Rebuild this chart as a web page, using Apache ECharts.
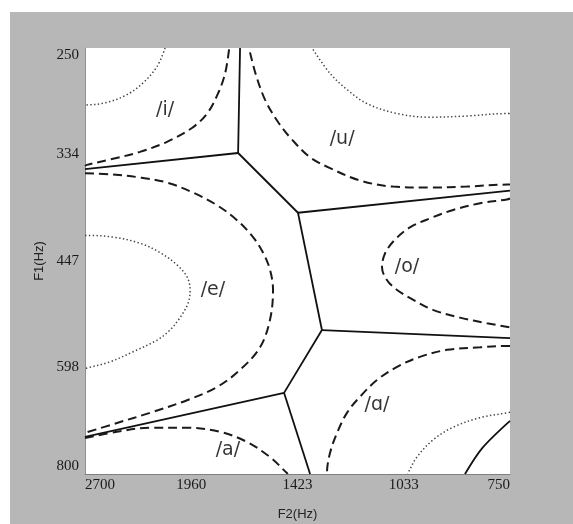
<!DOCTYPE html>
<html><head><meta charset="utf-8">
<script src="https://cdn.jsdelivr.net/npm/echarts@6/dist/echarts.min.js"></script>
<style>html,body{margin:0;padding:0;background:#fff;}#c{width:573px;height:524px;}</style>
</head><body><div id="c"></div>
<script>
// Tick labels (log-spaced axes)
const F2_TICKS = ['2700','1960','1423','1033','750'];
const F1_TICKS = ['250','334','447','598','800'];

// Decision boundaries (solid), [F2 Hz, F1 Hz]
const boundaryIU   = [[1692,250],[1702,333]];
const boundaryIE   = [[2700,348],[1702,333]];
const boundaryUE   = [[1702,333],[1421,392]];
const boundaryUO   = [[1421,392],[750,369]];
const boundaryEO   = [[1421,392],[1322,540]];
const boundaryOA   = [[1322,540],[750,552]];
const boundaryEA   = [[1322,540],[1482,641]];
const boundaryEa   = [[1482,641],[2700,723]];
const boundaryaA   = [[1482,641],[1370,800]];
const arcCorner    = [[859,800],[815,745],[750,692]];

// Dashed contours
const dashI = [[1749,251],[1770,268],[1808,283],[1869,299],[1956,311],[2109,323],[2288,332],[2504,339],[2684,344],[2700,345]];
const dashU = [[1642,253],[1613,269],[1569,288],[1509,306],[1447,321],[1370,337],[1290,347],[1179,359],[1067,365],[954,366],[854,365],[757,363],[750,363]];
const dashO = [[750,377],[757,378],[821,382],[890,389],[954,398],[1014,408],[1061,422],[1093,438],[1103,455],[1087,471],[1054,484],[1005,497],[946,511],[872,522],[804,530],[750,536]];
const dashE = [[2700,352],[2504,353],[2288,356],[2109,361],[1950,371],[1814,384],[1708,400],[1627,419],[1579,437],[1546,458],[1532,484],[1546,525],[1593,566],[1692,602],[1814,631],[1985,654],[2220,677],[2452,696],[2700,715]];
const dashAlpha = [[750,564],[757,564],[821,566],[907,570],[984,581],[1054,597],[1120,619],[1179,648],[1226,677],[1263,715],[1290,755],[1302,798],[1302,800]];
const dashA = [[2700,725],[2452,713],[2220,705],[1985,705],[1797,713],[1657,733],[1546,764],[1469,798],[1466,800]];

// Dotted contours
const dotI = [[2121,250],[2173,263],[2267,275],[2379,284],[2527,290],[2684,292],[2700,292]];
const dotU = [[1358,251],[1290,268],[1226,280],[1154,291],[1054,299],[954,302],[854,301],[757,299],[750,299]];
const dotE = [[2700,417],[2684,417],[2481,419],[2288,426],[2154,437],[2046,452],[1985,467],[1967,484],[1979,502],[2028,522],[2090,540],[2173,555],[2336,573],[2504,589],[2684,599],[2700,600]];
const dotAlpha = [[750,676],[757,677],[821,686],[890,704],[946,729],[993,764],[1020,798],[1021,800]];

// Vowel labels
const vowelNames = ['/i/','/u/','/e/','/o/','/ɑ/','/a/'];
const vowelPos   = [[2121,296],[1244,321],[1836,484],[1023,455],[1120,663],[1755,749]];

const F2_HI = 2700, F2_LO = 750, F1_LO = 250, F1_HI = 800;
const xi = f => 4 * Math.log(F2_HI / f) / Math.log(F2_HI / F2_LO);
const yi = f => 4 * Math.log(F1_HI / f) / Math.log(F1_HI / F1_LO);
const conv = arr => arr.map(p => [xi(p[0]), yi(p[1])]);

const series = [];
function addLine(arr, type, smooth) {
  let ls;
  if (type === 'solid') ls = {color:'#111', width:1.8, type:'solid'};
  else if (type === 'dash') ls = {color:'#1a1a1a', width:2, type:[9,5]};
  else ls = {color:'#444', width:1.5, type:[1.4,2.4]};
  series.push({type:'line', data:conv(arr), showSymbol:false, symbol:'none', smooth:smooth,
    lineStyle:ls, silent:true, animation:false, clip:true, z:3});
}
[boundaryIU,boundaryIE,boundaryUE,boundaryUO,boundaryEO,boundaryOA,boundaryEA,boundaryEa,boundaryaA].forEach(b=>addLine(b,'solid',false));
addLine(arcCorner,'solid',0.3);
[dashI,dashU,dashO,dashE,dashAlpha,dashA].forEach(b=>addLine(b,'dash',0.35));
[dotI,dotU,dotE,dotAlpha].forEach(b=>addLine(b,'dot',0.35));

series.push({type:'scatter', symbolSize:0, silent:true, animation:false, z:4,
  data: vowelPos.map((p,i)=>({value:[xi(p[0]), yi(p[1])], name:vowelNames[i]})),
  label:{show:true, position:'inside', formatter:p=>p.name, fontFamily:'DejaVu Sans', fontSize:19, color:'#000'}
});

const chart = echarts.init(document.getElementById('c'), null, {renderer:'canvas'});
chart.setOption({
  backgroundColor:'#ffffff',
  animation:false,
  graphic:[{type:'rect', shape:{x:10,y:12,width:563,height:512}, style:{fill:'#b7b7b7'}, z:-10, silent:true}],
  grid:{left:85, right:63, top:48, bottom:50, show:true, backgroundColor:'#ffffff', borderWidth:0,
    containLabel:false, outerBoundsMode:'none'},
  xAxis:{type:'value', min:0, max:4, interval:1,
    name:'F2(Hz)', nameLocation:'middle', nameGap:34,
    nameTextStyle:{fontFamily:'Liberation Sans', fontSize:13, color:'#222'},
    axisLine:{show:true, lineStyle:{color:'#808080', width:1}}, axisTick:{show:false}, splitLine:{show:false},
    axisLabel:{formatter:v=>F2_TICKS[Math.round(v)], fontFamily:'Liberation Serif', fontSize:15, color:'#1a1a1a', margin:4,
      alignMinLabel:'left', alignMaxLabel:'right'}},
  yAxis:{type:'value', min:0, max:4, interval:1,
    name:'F1(Hz)', nameLocation:'middle', nameGap:32, nameRotate:90,
    nameTextStyle:{fontFamily:'Liberation Sans', fontSize:13, color:'#222'},
    axisLine:{show:true, lineStyle:{color:'#909090', width:1}}, axisTick:{show:false}, splitLine:{show:false},
    axisLabel:{formatter:v=>F1_TICKS[4-Math.round(v)], fontFamily:'Liberation Serif', fontSize:15, color:'#1a1a1a', margin:6,
      verticalAlignMinLabel:'bottom', verticalAlignMaxLabel:'top'}},
  series:series
});
</script></body></html>
